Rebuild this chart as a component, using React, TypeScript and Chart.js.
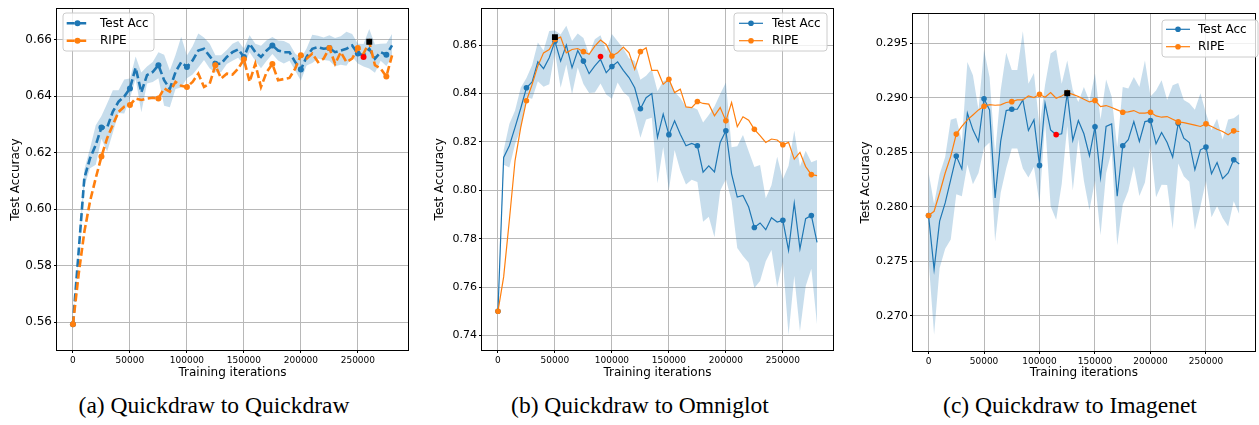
import React, { useEffect, useRef } from 'react';
import { Chart, registerables } from 'chart.js';

Chart.register(...registerables);
Chart.defaults.font.family = "'DejaVu Sans', sans-serif";
Chart.defaults.color = '#000';

// ---------- data ----------
const iterations = [
  0, 5000, 10000, 15000, 20000, 25000, 30000, 35000, 40000, 45000,
  50000, 55000, 60000, 65000, 70000, 75000, 80000, 85000, 90000, 95000,
  100000, 105000, 110000, 115000, 120000, 125000, 130000, 135000, 140000, 145000,
  150000, 155000, 160000, 165000, 170000, 175000, 180000, 185000, 190000, 195000,
  200000, 205000, 210000, 215000, 220000, 225000, 230000, 235000, 240000, 245000,
  250000, 255000, 260000, 265000, 270000, 275000, 280000,
];
const xTickValues = [0, 50000, 100000, 150000, 200000, 250000];

// (a) Quickdraw to Quickdraw
const qqTestAcc = [
  0.5593, 0.585, 0.611, 0.618, 0.6227, 0.6289, 0.6289, 0.6345, 0.638, 0.6398,
  0.6427, 0.650, 0.6413, 0.6474, 0.6485, 0.6509, 0.6456, 0.6425, 0.6485, 0.652,
  0.6503, 0.6526, 0.6561, 0.6567, 0.6541, 0.6514, 0.6514, 0.6538, 0.6555, 0.6565,
  0.6538, 0.6585, 0.6555, 0.6538, 0.6561, 0.6579, 0.6561, 0.6555, 0.6555, 0.652,
  0.6494, 0.6538, 0.6567, 0.6573, 0.6567, 0.657, 0.6555, 0.6561, 0.6567, 0.6579,
  0.655, 0.6544, 0.6567, 0.6532, 0.6555, 0.6546, 0.6579,
];
const qqTestStd = [
  0, 0.001, 0.003, 0.0035, 0.007, 0.004, 0.0085, 0.0075, 0.004, 0.006,
  0.0035, 0.004, 0.007, 0.003, 0.0035, 0.0046, 0.009, 0.0065, 0.006, 0.009,
  0.004, 0.005, 0.006, 0.004, 0.0044, 0.003, 0.003, 0.0025, 0.003, 0.003,
  0.003, 0.003, 0.003, 0.004, 0.0036, 0.003, 0.0035, 0.004, 0.003, 0.003,
  0.004, 0.003, 0.005, 0.004, 0.004, 0.0045, 0.005, 0.005, 0.006, 0.004,
  0.0035, 0.004, 0.007, 0.005, 0.003, 0.004, 0.004,
];
const qqRipe = [
  0.5593, 0.577, 0.592, 0.6028, 0.611, 0.6186, 0.6251, 0.6298, 0.6344, 0.6362,
  0.6368, 0.6391, 0.6386, 0.6391, 0.6394, 0.6391, 0.6427, 0.6415, 0.645, 0.6436,
  0.6432, 0.645, 0.6479, 0.6432, 0.6444, 0.6509, 0.6462, 0.6479, 0.6476, 0.6497,
  0.653, 0.645, 0.6514, 0.6432, 0.6485, 0.6513, 0.6456, 0.646, 0.6464, 0.6497,
  0.6544, 0.6532, 0.655, 0.652, 0.6532, 0.657, 0.6514, 0.6555, 0.652, 0.6532,
  0.657, 0.655, 0.6591, 0.6509, 0.6497, 0.6469, 0.6544,
];
const qqBest = [260000, 0.6592];
const qqChosen = [255000, 0.6538];
const qqYTicks = [0.56, 0.58, 0.60, 0.62, 0.64, 0.66];

// (b) Quickdraw to Omniglot
const qoTestAcc = [
  0.75, 0.8136, 0.8184, 0.826, 0.8339, 0.8424, 0.8448, 0.8531, 0.8503, 0.8548,
  0.8616, 0.8534, 0.86, 0.8507, 0.8578, 0.8534, 0.8482, 0.8514, 0.8541, 0.8486,
  0.8512, 0.8531, 0.8496, 0.8466, 0.8424, 0.8337, 0.8383, 0.84, 0.8219, 0.8315,
  0.823, 0.8287, 0.8232, 0.8184, 0.8194, 0.8184, 0.8075, 0.8101, 0.8076, 0.8198,
  0.8246, 0.8068, 0.7972, 0.7979, 0.7931, 0.7846, 0.7865, 0.7837, 0.7887, 0.7869,
  0.7876, 0.7752, 0.7947, 0.7758, 0.7883, 0.7896, 0.7785,
];
const qoTestStd = [
  0, 0.003, 0.009, 0.007, 0.0085, 0.004, 0.007, 0.008, 0.0075, 0.011,
  0.0045, 0.011, 0.008, 0.011, 0.007, 0.0095, 0.008, 0.011, 0.01, 0.009,
  0.0134, 0.0085, 0.009, 0.008, 0.011, 0.012, 0.009, 0.01, 0.019, 0.0136,
  0.023, 0.012, 0.015, 0.016, 0.015, 0.015, 0.0205, 0.021, 0.027, 0.02,
  0.02, 0.011, 0.021, 0.025, 0.023, 0.025, 0.024, 0.013, 0.0134, 0.027,
  0.017, 0.035, 0.03, 0.034, 0.028, 0.022, 0.034,
];
const qoRipe = [
  0.75, 0.7642, 0.7876, 0.8123, 0.826, 0.837, 0.8438, 0.8514, 0.8568, 0.8582,
  0.8623, 0.8633, 0.8568, 0.8582, 0.8586, 0.8573, 0.8562, 0.8596, 0.8621, 0.8603,
  0.8555, 0.8568, 0.8592, 0.8568, 0.85, 0.8573, 0.8589, 0.8496, 0.8496, 0.8438,
  0.8459, 0.8404, 0.8418, 0.8345, 0.8342, 0.8367, 0.8359, 0.8356, 0.8308, 0.8342,
  0.8287, 0.8363, 0.8263, 0.8304, 0.829, 0.8252, 0.8226, 0.8198, 0.8212, 0.8208,
  0.8188, 0.8198, 0.8129, 0.8157, 0.8098, 0.8065, 0.8061,
];
const qoBest = [50000, 0.8633];
const qoChosen = [90000, 0.8553];
const qoYTicks = [0.74, 0.76, 0.78, 0.80, 0.82, 0.84, 0.86];

// (c) Quickdraw to Imagenet
const qiTestAcc = [
  0.27918, 0.27424, 0.27866, 0.28034, 0.28247, 0.28463, 0.28345, 0.28857, 0.28704, 0.28598,
  0.2899, 0.28887, 0.28079, 0.28598, 0.28881, 0.28893, 0.28893, 0.28979, 0.28698, 0.28796,
  0.28378, 0.28948, 0.28704, 0.28659, 0.28668, 0.2904, 0.28607, 0.2879, 0.28668, 0.28467,
  0.28732, 0.28268, 0.28735, 0.28759, 0.28095, 0.28558, 0.28613, 0.2878, 0.28598, 0.2878,
  0.2879, 0.28576, 0.2868, 0.28588, 0.28454, 0.28765, 0.28628, 0.28588, 0.28338, 0.28521,
  0.28546, 0.28302, 0.28405, 0.28256, 0.28308, 0.2843, 0.2839,
];
const qiTestStd = [
  0.004, 0.006, 0.0043, 0.0042, 0.0055, 0.0035, 0.0025, 0.0047, 0.005, 0.0029,
  0.0045, 0.003, 0.004, 0.0047, 0.0053, 0.0036, 0.0036, 0.0063, 0.0043, 0.0043,
  0.0035, 0.0017, 0.007, 0.0078, 0.0046, 0.003, 0.0046, 0.0017, 0.0043, 0.005,
  0.0049, 0.0053, 0.0043, 0.0025, 0.0045, 0.0054, 0.0047, 0.0041, 0.005, 0.0056,
  0.0022, 0.0049, 0.0048, 0.0039, 0.0066, 0.0037, 0.0035, 0.0036, 0.0055, 0.0052,
  0.0031, 0.004, 0.004, 0.0036, 0.0049, 0.0038, 0.0046,
];
const qiRipe = [
  0.27918, 0.27957, 0.28125, 0.28308, 0.2846, 0.28665, 0.28735, 0.28796, 0.28841, 0.28887,
  0.28921, 0.28936, 0.2893, 0.28933, 0.28955, 0.28963, 0.28979, 0.28979, 0.29015, 0.29,
  0.2903, 0.29003, 0.29046, 0.28994, 0.29015, 0.29046, 0.2903, 0.2901, 0.28985, 0.2896,
  0.28973, 0.28918, 0.28927, 0.28909, 0.28887, 0.28866, 0.28869, 0.28881, 0.28857, 0.28857,
  0.28866, 0.28832, 0.2882, 0.28826, 0.28802, 0.28777, 0.28771, 0.28759, 0.28747, 0.28735,
  0.28759, 0.28735, 0.2871, 0.28689, 0.28659, 0.28695, 0.28689,
];
const qiBest = [125000, 0.2904];
const qiChosen = [115000, 0.2866];
const qiYTicks = [0.270, 0.275, 0.280, 0.285, 0.290, 0.295];

const seriesLabels = ['Test Acc', 'RIPE'];
const captions = ['(a) Quickdraw to Quickdraw', '(b) Quickdraw to Omniglot', '(c) Quickdraw to Imagenet'];

// ---------- styling ----------
const BLUE = '#1f77b4';
const ORANGE = '#ff7f0e';
const BAND = 'rgba(31,119,180,0.25)';

const framePlugin = {
  id: 'frame',
  afterDatasetsDraw(chart: any) {
    const { ctx, chartArea } = chart;
    const { left, top, right, bottom } = chartArea;
    ctx.save();
    ctx.strokeStyle = '#000';
    ctx.lineWidth = 1;
    ctx.strokeRect(Math.round(left) - 0.5, Math.round(top) - 0.5, Math.round(right - left) + 1, Math.round(bottom - top) + 1);
    ctx.restore();
  },
};

const legendPlugin = {
  id: 'mplLegend',
  afterDraw(chart: any, _args: any, o: any) {
    if (!o || !o.box) return;
    const { ctx } = chart;
    ctx.save();
    const [bx, by, bw, bh] = o.box;
    const r = 3;
    ctx.beginPath();
    ctx.moveTo(bx + r, by);
    ctx.lineTo(bx + bw - r, by);
    ctx.quadraticCurveTo(bx + bw, by, bx + bw, by + r);
    ctx.lineTo(bx + bw, by + bh - r);
    ctx.quadraticCurveTo(bx + bw, by + bh, bx + bw - r, by + bh);
    ctx.lineTo(bx + r, by + bh);
    ctx.quadraticCurveTo(bx, by + bh, bx, by + bh - r);
    ctx.lineTo(bx, by + r);
    ctx.quadraticCurveTo(bx, by, bx + r, by);
    ctx.closePath();
    ctx.fillStyle = 'rgba(255,255,255,0.8)';
    ctx.fill();
    ctx.strokeStyle = '#cccccc';
    ctx.lineWidth = 1;
    ctx.stroke();
    o.items.forEach((it: any, i: number) => {
      const y = o.rowY[i];
      ctx.strokeStyle = it.color;
      ctx.lineWidth = o.lineWidth;
      ctx.setLineDash(o.dash || []);
      ctx.beginPath();
      ctx.moveTo(o.lineX[0], y);
      ctx.lineTo(o.lineX[1], y);
      ctx.stroke();
      ctx.setLineDash([]);
      ctx.fillStyle = it.color;
      ctx.beginPath();
      ctx.arc((o.lineX[0] + o.lineX[1]) / 2, y, o.markerR, 0, Math.PI * 2);
      ctx.fill();
      ctx.fillStyle = '#000';
      ctx.font = "12px 'DejaVu Sans', sans-serif";
      ctx.textBaseline = 'middle';
      ctx.textAlign = 'left';
      ctx.fillText(it.label, o.textX, y + 0.5);
    });
    ctx.restore();
  },
};

type Panel = {
  left: number; width: number; height: number;
  yAxisW: number; xAxisH: number; padTop: number; padRight: number;
  yMin: number; yMax: number; yTicks: number[]; yDecimals: number;
  yTickFont: number; yTitlePad: number;
  test: number[]; std: number[]; ripe: number[]; best: number[]; chosen: number[];
  dashed: boolean; lineW: number; markerR: number;
  legend: any;
};

const panels: Panel[] = [
  {
    left: 0, width: 420, height: 385, yAxisW: 57, xAxisH: 35, padTop: 7, padRight: 12,
    yMin: 0.5502, yMax: 0.6707, yTicks: qqYTicks, yDecimals: 2, yTickFont: 12, yTitlePad: 9,
    test: qqTestAcc, std: qqTestStd, ripe: qqRipe, best: qqBest, chosen: qqChosen,
    dashed: true, lineW: 2.6, markerR: 3,
    legend: { box: [63, 13, 91, 38], rowY: [23.3, 40.7], lineX: [66.7, 88.3], textX: 100, dash: [8, 3.5], lineWidth: 2.6, markerR: 3 },
  },
  {
    left: 420, width: 420, height: 385, yAxisW: 62, xAxisH: 35, padTop: 7, padRight: 7,
    yMin: 0.734, yMax: 0.8751, yTicks: qoYTicks, yDecimals: 2, yTickFont: 11, yTitlePad: 13,
    test: qoTestAcc, std: qoTestStd, ripe: qoRipe, best: qoBest, chosen: qoChosen,
    dashed: false, lineW: 1.2, markerR: 2.8,
    legend: { box: [314, 13, 93, 38], rowY: [23.3, 40.7], lineX: [319, 343], textX: 352, dash: [], lineWidth: 1.2, markerR: 2.8 },
  },
  {
    left: 840, width: 419, height: 385, yAxisW: 73, xAxisH: 34, padTop: 14, padRight: 0,
    yMin: 0.26675, yMax: 0.29767, yTicks: qiYTicks, yDecimals: 3, yTickFont: 11.3, yTitlePad: 19,
    test: qiTestAcc, std: qiTestStd, ripe: qiRipe, best: qiBest, chosen: qiChosen,
    dashed: false, lineW: 1.2, markerR: 2.8,
    legend: { box: [322, 20, 96, 37], rowY: [29.3, 46.7], lineX: [326, 350], textX: 358, dash: [], lineWidth: 1.2, markerR: 2.8 },
  },
];

function buildConfig(p: Panel): any {
  const pts = (arr: number[]) => iterations.map((x, i) => ({ x, y: arr[i] }));
  const upper = iterations.map((x, i) => ({ x, y: p.test[i] + p.std[i] }));
  const lower = iterations.map((x, i) => ({ x, y: p.test[i] - p.std[i] }));
  const markerRadii = iterations.map((_, i) => (i % 5 === 0 ? p.markerR : 0));
  const dash = p.dashed ? [8, 3.5] : [];
  const gridOpts = { color: '#b8b8b8', lineWidth: 1, tickColor: '#000', tickLength: 3, drawTicks: true };
  return {
    type: 'line',
    data: {
      datasets: [
        { data: [{ x: p.best[0], y: p.best[1] }], showLine: false, pointStyle: 'rect', pointRadius: 4.2, pointBackgroundColor: '#000', pointBorderWidth: 0, borderColor: '#000' },
        { data: [{ x: p.chosen[0], y: p.chosen[1] }], showLine: false, pointRadius: p.markerR, pointBackgroundColor: '#ff0000', pointBorderWidth: 0, borderColor: '#ff0000' },
        { label: seriesLabels[1], data: pts(p.ripe), borderColor: ORANGE, borderWidth: p.lineW, borderDash: dash, pointRadius: markerRadii, pointBackgroundColor: ORANGE, pointBorderWidth: 0, fill: false, tension: 0 },
        { label: seriesLabels[0], data: pts(p.test), borderColor: BLUE, borderWidth: p.lineW, borderDash: dash, pointRadius: markerRadii, pointBackgroundColor: BLUE, pointBorderWidth: 0, fill: false, tension: 0 },
        { data: upper, borderColor: 'rgba(0,0,0,0)', borderWidth: 1, pointRadius: 0, fill: '+1', backgroundColor: BAND, tension: 0 },
        { data: lower, borderColor: 'rgba(0,0,0,0)', borderWidth: 1, pointRadius: 0, fill: false, tension: 0 },
      ],
    },
    options: {
      animation: false,
      responsive: false,
      events: [],
      layout: { padding: { top: p.padTop, right: p.padRight, left: 0, bottom: 0 } },
      plugins: {
        legend: { display: false },
        tooltip: { enabled: false },
        mplLegend: { ...p.legend, items: [{ label: seriesLabels[0], color: BLUE }, { label: seriesLabels[1], color: ORANGE }] },
      },
      scales: {
        x: {
          type: 'linear', min: -14000, max: 294000,
          afterBuildTicks: (s: any) => { s.ticks = xTickValues.map((v) => ({ value: v })); },
          afterFit: (s: any) => { s.height = p.xAxisH; },
          ticks: { callback: (v: any) => String(v), font: { size: 9 }, color: '#000', padding: 2, maxRotation: 0, autoSkip: false },
          grid: gridOpts,
          border: { display: false },
          title: { display: true, text: 'Training iterations', font: { size: 12 }, color: '#000', padding: { top: 0, bottom: 5 } },
        },
        y: {
          type: 'linear', min: p.yMin, max: p.yMax,
          afterBuildTicks: (s: any) => { s.ticks = p.yTicks.map((v) => ({ value: v })); },
          afterFit: (s: any) => { s.width = p.yAxisW; },
          ticks: { callback: (v: any) => Number(v).toFixed(p.yDecimals), font: { size: p.yTickFont }, color: '#000', padding: 2, autoSkip: false },
          grid: gridOpts,
          border: { display: false },
          title: { display: true, text: 'Test Accuracy', font: { size: 12 }, color: '#000', padding: { top: p.yTitlePad, bottom: 0 } },
        },
      },
    },
    plugins: [framePlugin, legendPlugin],
  };
}

function PanelChart({ p }: { p: Panel }) {
  const ref = useRef<HTMLCanvasElement>(null);
  useEffect(() => {
    const chart = new Chart(ref.current as HTMLCanvasElement, buildConfig(p));
    return () => chart.destroy();
  }, [p]);
  return (
    <canvas
      ref={ref}
      width={p.width}
      height={p.height}
      style={{ position: 'absolute', left: p.left, top: 0, width: p.width, height: p.height }}
    />
  );
}

const captionCenters = [214, 640, 1070];

export default function App() {
  return (
    <div style={{ position: 'absolute', left: 0, top: 0, width: 1259, height: 425, background: '#fff', overflow: 'hidden' }}>
      {panels.map((p, i) => <PanelChart key={i} p={p} />)}
      {captions.map((c, i) => (
        <div
          key={c}
          style={{
            position: 'absolute', left: captionCenters[i] - 200, width: 400, top: 394,
            textAlign: 'center', fontFamily: "'Liberation Serif', serif", fontSize: 23.5, lineHeight: 1, color: '#000', whiteSpace: 'nowrap',
          }}
        >
          {c}
        </div>
      ))}
    </div>
  );
}
